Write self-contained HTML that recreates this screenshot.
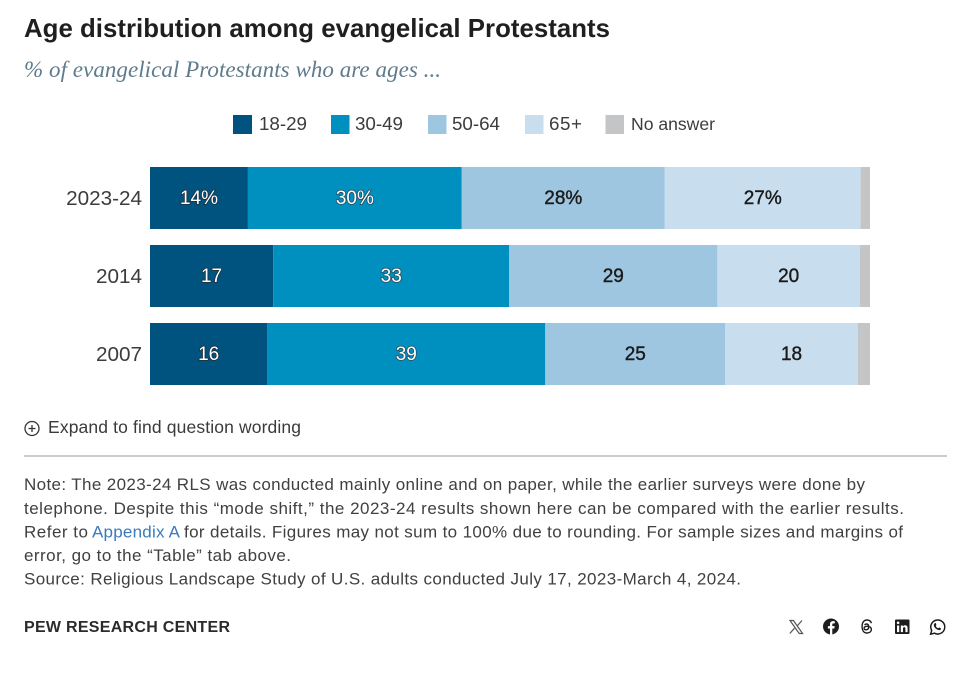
<!DOCTYPE html>
<html lang="en">
<head>
<meta charset="utf-8">
<title>Age distribution among evangelical Protestants</title>
<style>
html,body{margin:0;padding:0;background:#fff;width:969px;height:673px;overflow:hidden}
svg{display:block}
text{font-family:"Liberation Sans",sans-serif}
</style>
</head>
<body>
<svg id="chart" width="969" height="673" viewBox="0 0 969 673" xmlns="http://www.w3.org/2000/svg">
  <rect x="0" y="0" width="969" height="673" fill="#fff"/>
  <text x="24" y="37" font-size="25.8" font-weight="700" fill="#1f1f1f" textLength="586" lengthAdjust="spacing">Age distribution among evangelical Protestants</text>
  <text x="24" y="77" font-size="23" font-style="italic" fill="#5f7b8c" textLength="417" lengthAdjust="spacing" style="font-family:'Liberation Serif',serif">% of evangelical Protestants who are ages ...</text>

  <g id="legend">
    <g><rect x="233" y="115" width="19" height="19" fill="#00527f"/><text x="259" y="130" font-size="18.8" fill="#3c3c3c" textLength="48">18-29</text></g>
    <g><rect x="331" y="115" width="18.5" height="19" fill="#0090bf"/><text x="355" y="130" font-size="18.8" fill="#3c3c3c" textLength="48">30-49</text></g>
    <g><rect x="428" y="115" width="18.5" height="19" fill="#9ec6e0"/><text x="452" y="130" font-size="18.8" fill="#3c3c3c" textLength="48">50-64</text></g>
    <g><rect x="525" y="115" width="18.5" height="19" fill="#c8dded"/><text x="549" y="130" font-size="18.8" fill="#3c3c3c" textLength="33">65+</text></g>
    <g><rect x="605.5" y="115" width="18.5" height="19" fill="#c4c5c7"/><text x="631" y="130" font-size="17.6" fill="#3c3c3c" textLength="84">No answer</text></g>
  </g>

  <g id="bars"></g>

  <g style="cursor:pointer">
    <circle cx="32" cy="428.5" r="7" fill="none" stroke="#333" stroke-width="1.3"/>
    <path d="M28.5 428.5h7M32 425v7" stroke="#333" stroke-width="1.3" fill="none"/>
    <text x="48" y="433" font-size="17.5" fill="#3a3a3a" textLength="253" lengthAdjust="spacing">Expand to find question wording</text>
  </g>

  <rect x="24" y="455" width="923" height="2" fill="#c9cbcd"/>

  <g font-size="17" fill="#404040">
    <text x="24" y="490" font-size="17" fill="#404040" textLength="841" lengthAdjust="spacing">Note: The 2023-24 RLS was conducted mainly online and on paper, while the earlier surveys were done by</text>
    <text x="24" y="514" font-size="17" fill="#404040" textLength="880" lengthAdjust="spacing">telephone. Despite this “mode shift,” the 2023-24 results shown here can be compared with the earlier results.</text>
    <text x="24" y="537.5" font-size="17" fill="#404040" textLength="64" lengthAdjust="spacing">Refer to</text>
    <text x="92" y="537.5" font-size="17" fill="#3a7abf" textLength="88" lengthAdjust="spacing" style="cursor:pointer">Appendix A</text>
    <text x="184" y="537.5" font-size="17" fill="#404040" textLength="719" lengthAdjust="spacing">for details. Figures may not sum to 100% due to rounding. For sample sizes and margins of</text>
    <text x="24" y="561" font-size="17" fill="#404040" textLength="267" lengthAdjust="spacing">error, go to the “Table” tab above.</text>
    <text x="24" y="584.5" font-size="17" fill="#404040" textLength="717" lengthAdjust="spacing">Source: Religious Landscape Study of U.S. adults conducted July 17, 2023-March 4, 2024.</text>
  </g>

  <text x="24" y="632" font-size="16" font-weight="700" fill="#2b2b2b" textLength="206" lengthAdjust="spacing">PEW RESEARCH CENTER</text>

  <g>
    <g style="cursor:pointer">
      <path d="M790 620.5h3.4l9.2 13h-3.4z" fill="#fff" stroke="#555" stroke-width="1.2"/>
      <path d="M802 620.5l-5 5.6M794.5 628.2l-4.7 5.3" stroke="#555" stroke-width="1.2" fill="none"/>
    </g>
    <g style="cursor:pointer">
      <circle cx="831" cy="626.5" r="8" fill="#1d1d1d"/>
      <path d="M832.3 634.5v-6h2l.4-2.4h-2.4v-1.5c0-.8.3-1.2 1.2-1.2h1.3v-2.1c-.5-.1-1.1-.2-1.8-.2-1.9 0-3 1.1-3 3.1v1.9h-2.1v2.4h2.1v6z" fill="#fff"/>
    </g>
    <g style="cursor:pointer">
      <path d="M871.4 623.2c-.6-2-2.2-3.2-4.4-3.2-3 0-4.9 2.3-4.9 6.5s1.9 6.5 4.9 6.5c2.6 0 4.4-1.5 4.4-3.5 0-2.4-2.4-3.4-4.7-3.2-1.6.1-2.6.9-2.6 1.9 0 1.1 1 1.7 2.2 1.6 1.6-.1 2.4-1.2 2.4-3 0-1.7-.8-2.8-2.2-2.8-.9 0-1.5.4-1.9 1" fill="none" stroke="#1d1d1d" stroke-width="1.4"/>
    </g>
    <g style="cursor:pointer">
      <rect x="895" y="619.5" width="14.5" height="14.5" rx="1" fill="#1d1d1d"/>
      <rect x="897" y="625.5" width="2.2" height="6.6" fill="#fff"/>
      <circle cx="898.1" cy="622.8" r="1.3" fill="#fff"/>
      <path d="M900.8 625.5h2.1v1c.5-.7 1.2-1.2 2.2-1.2 1.7 0 2.5 1.1 2.5 3v3.8h-2.2v-3.4c0-1-.3-1.6-1.1-1.6s-1.3.6-1.3 1.6v3.4h-2.2z" fill="#fff"/>
    </g>
    <g style="cursor:pointer">
      <path d="M930.6 634.2l1.1-3.7a7 7 0 1 1 2.8 2.7z" fill="#fff" stroke="#1d1d1d" stroke-width="1.5"/>
      <path d="M935.3 623c.7-.3 1.1 1.6 1 2-.1.5-.7.7-.4 1.2.5.9 1.2 1.6 2.1 2 .5.2.8-.6 1.2-.7.4 0 1.8.8 1.8 1.2 0 1-1.2 1.6-2.2 1.4-2.7-.5-4.7-2.6-5-4.8-.1-1 .7-2.1 1.5-2.3z" fill="#1d1d1d"/>
    </g>
  </g>
</svg>
<script>
const years = ["2023-24", "2014", "2007"];
const series = ["18-29", "30-49", "50-64", "65+", "No answer"];
const age18to29 = [13.6, 17.1, 16.3];
const age30to49 = [29.7, 32.8, 38.6];
const age50to64 = [28.2, 28.9, 25.0];
const age65plus = [27.2, 19.8, 18.4];
const noAnswer = [1.3, 1.4, 1.7];
const percentSuffixRow = ["2023-24"];
const seriesValues = [age18to29, age30to49, age50to64, age65plus, noAnswer];
const seriesFill = ["#00527f", "#0090bf", "#9ec6e0", "#c8dded", "#c4c5c7"];
const seriesInk = ["#ffffff", "#ffffff", "#1a1a1a", "#1a1a1a", null];
const seriesHalo = ["#1d2f3a", "#2a4a5a", "#1a1a1a", "#1a1a1a", null];
const seriesHaloWidth = [1.6, 1.6, 0.4, 0.4, 0];

const svgNS = "http://www.w3.org/2000/svg";
const barsGroup = document.getElementById("bars");
const plotLeft = 150, plotWidth = 720, rowTop = 167, rowStep = 78, barHeight = 62;
function xScale(v) { return plotLeft + v / 100 * plotWidth; }
function yScale(i) { return rowTop + i * rowStep; }

years.forEach(function (year, r) {
  const rowGroup = document.createElementNS(svgNS, "g");
  
  

  const rowLabel = document.createElementNS(svgNS, "text");
  
  
  rowLabel.setAttribute("x", plotLeft - 8);
  rowLabel.setAttribute("y", yScale(r) + barHeight / 2 + 7);
  rowLabel.setAttribute("text-anchor", "end");
  rowLabel.setAttribute("font-size", "20.7");
  rowLabel.setAttribute("fill", "#3c3c3c");
  rowLabel.textContent = year;
  rowGroup.appendChild(rowLabel);

  let cumulative = 0;
  series.forEach(function (name, s) {
    const value = seriesValues[s][r];
    const x0 = xScale(cumulative);
    const x1 = xScale(cumulative + value);
    cumulative += value;

    const bar = document.createElementNS(svgNS, "rect");
    
    
    bar.setAttribute("x", x0);
    bar.setAttribute("y", yScale(r));
    bar.setAttribute("width", Math.max(0, x1 - x0));
    bar.setAttribute("height", barHeight);
    bar.setAttribute("fill", seriesFill[s]);
    rowGroup.appendChild(bar);

    if (seriesInk[s]) {
      const label = document.createElementNS(svgNS, "text");
      
      
      label.setAttribute("x", (x0 + x1) / 2);
      label.setAttribute("y", yScale(r) + barHeight / 2 + 6);
      label.setAttribute("text-anchor", "middle");
      label.setAttribute("font-size", "19");
      label.setAttribute("fill", seriesInk[s]);
      label.setAttribute("stroke", seriesHalo[s]);
      label.setAttribute("stroke-width", seriesHaloWidth[s]);
      label.setAttribute("paint-order", "stroke");
      label.textContent = Math.round(value) + (percentSuffixRow.indexOf(year) >= 0 ? "%" : "");
      rowGroup.appendChild(label);
    }
  });
  barsGroup.appendChild(rowGroup);
});
</script>
</body>
</html>
